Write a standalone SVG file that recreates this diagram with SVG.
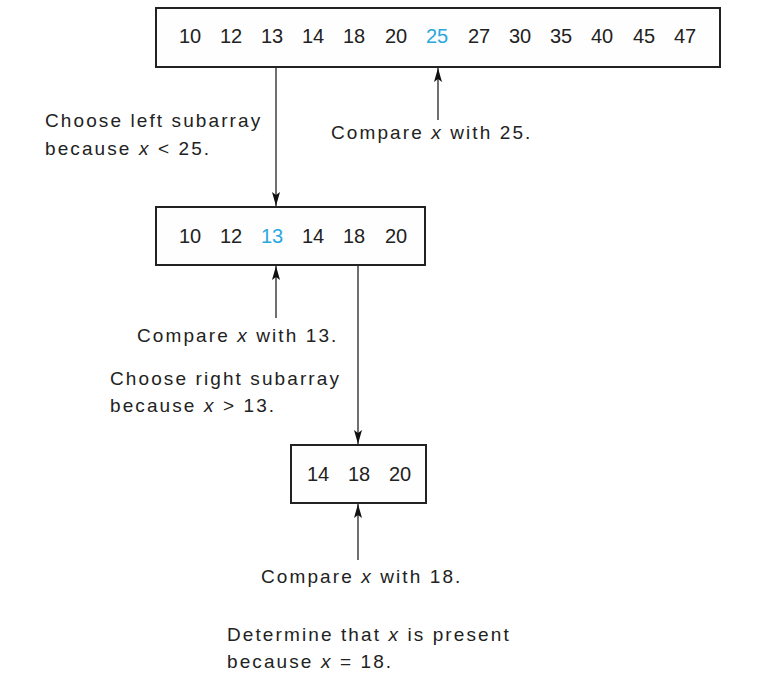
<svg xmlns="http://www.w3.org/2000/svg" width="768" height="674" viewBox="0 0 768 674">
<style>
.box{fill:#fefefe;stroke:#222;stroke-width:2}
.num{font-family:"Liberation Sans",Arial,sans-serif;font-size:20px;fill:#222;text-anchor:middle}
.hi{fill:#29a8e0}
.lbl{font-family:"Liberation Sans",Arial,sans-serif;font-size:19px;fill:#222;letter-spacing:2.1px}
.x{font-style:italic}
.c{stroke:#222;stroke-width:1.3;fill:none}
</style>
<defs>
<marker id="ah" markerWidth="14" markerHeight="8" refX="14" refY="4" orient="auto" markerUnits="userSpaceOnUse" viewBox="0 0 14 8">
<path d="M0,0 L14,4 L0,8 L3,4 Z" fill="#111"/>
</marker>
</defs>
<rect width="768" height="674" fill="#fff"/>
<g id="arr1">
<rect class="box" x="156" y="8" width="564" height="59"/>
<text class="num" y="43"><tspan x="190">10</tspan><tspan x="231">12</tspan><tspan x="272">13</tspan><tspan x="313">14</tspan><tspan x="354">18</tspan><tspan x="396">20</tspan><tspan x="437" class="hi">25</tspan><tspan x="479">27</tspan><tspan x="520">30</tspan><tspan x="561">35</tspan><tspan x="602">40</tspan><tspan x="644">45</tspan><tspan x="685">47</tspan></text>
</g>
<g id="arr2">
<rect class="box" x="156" y="207" width="269" height="58"/>
<text class="num" y="243"><tspan x="190">10</tspan><tspan x="231">12</tspan><tspan x="272" class="hi">13</tspan><tspan x="313">14</tspan><tspan x="354">18</tspan><tspan x="396">20</tspan></text>
</g>
<g id="arr3">
<rect class="box" x="291" y="445" width="135" height="58"/>
<text class="num" y="481"><tspan x="318">14</tspan><tspan x="359">18</tspan><tspan x="400">20</tspan></text>
</g>
<g id="connectors">
<line class="c" x1="276" y1="67" x2="276" y2="206" marker-end="url(#ah)"/>
<line class="c" x1="438" y1="120" x2="438" y2="68" marker-end="url(#ah)"/>
<line class="c" x1="276" y1="318" x2="276" y2="266" marker-end="url(#ah)"/>
<line class="c" x1="358" y1="265" x2="358" y2="444" marker-end="url(#ah)"/>
<line class="c" x1="358" y1="560" x2="358" y2="504" marker-end="url(#ah)"/>
</g>
<g id="labels">
<text class="lbl" x="45" y="127">Choose left subarray</text>
<text class="lbl" x="45" y="155">because <tspan class="x">x</tspan> &lt; 25.</text>
<text class="lbl" x="331" y="139">Compare <tspan class="x">x</tspan> with 25.</text>
<text class="lbl" x="137" y="342">Compare <tspan class="x">x</tspan> with 13.</text>
<text class="lbl" x="110" y="385">Choose right subarray</text>
<text class="lbl" x="110" y="412">because <tspan class="x">x</tspan> &gt; 13.</text>
<text class="lbl" x="261" y="583">Compare <tspan class="x">x</tspan> with 18.</text>
<text class="lbl" x="227" y="641">Determine that <tspan class="x">x</tspan> is present</text>
<text class="lbl" x="227" y="668">because <tspan class="x">x</tspan> = 18.</text>
</g>
</svg>
